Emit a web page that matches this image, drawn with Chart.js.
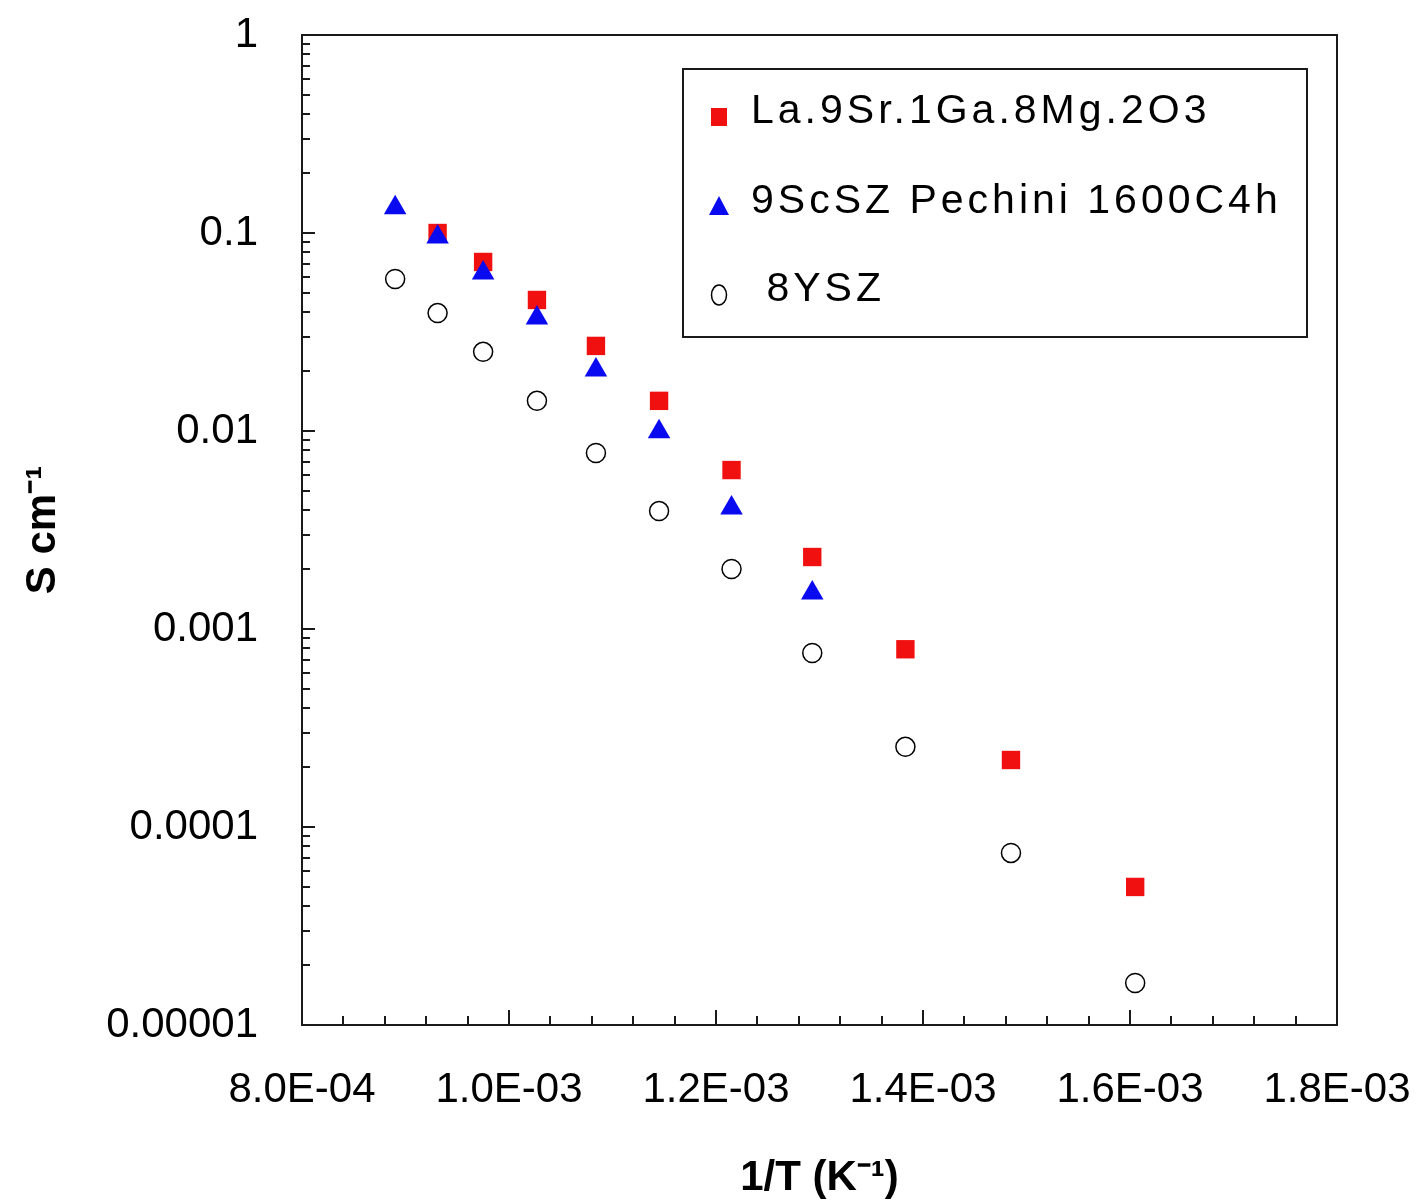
<!DOCTYPE html>
<html>
<head>
<meta charset="utf-8">
<script src="https://cdn.jsdelivr.net/npm/chart.js@4/dist/chart.umd.min.js"></script>
<style>
  html, body { margin: 0; padding: 0; background: #fff; }
</style>
</head>
<body>
<canvas id="condChart" width="1418" height="1201"></canvas>
<script>
const invTemp = [8.90e-4, 9.31e-4, 9.75e-4, 1.027e-3, 1.084e-3, 1.145e-3, 1.215e-3, 1.293e-3, 1.383e-3, 1.485e-3, 1.605e-3];

// conductivity, S cm^-1 (null = no point at that temperature)
const lsgmCond = [null, 0.100, 0.0714, 0.0459, 0.0269, 0.0142, 0.00635, 0.00231, 0.00079, 0.000218, 0.0000498];
const scszCond = [0.134, 0.0955, 0.0628, 0.0372, 0.0203, 0.0099, 0.00408, 0.00152, null, null, null];
const yszCond = [0.0586, 0.0394, 0.0251, 0.0142, 0.00774, 0.00394, 0.00201, 0.000757, 0.000254, 0.000074, 0.0000163];

const seriesLabels = ['La.9Sr.1Ga.8Mg.2O3', '9ScSZ Pechini 1600C4h', ' 8YSZ'];

const xTickValues = [0.0008, 0.0010, 0.0012, 0.0014, 0.0016, 0.0018];
const xTickLabels = ['8.0E-04', '1.0E-03', '1.2E-03', '1.4E-03', '1.6E-03', '1.8E-03'];
const yTickValues = [1e-5, 1e-4, 1e-3, 1e-2, 1e-1, 1];
const yTickLabels = ['0.00001', '0.0001', '0.001', '0.01', '0.1', '1'];

const FONT = '"Liberation Sans", Arial, sans-serif';

function toPoints(vals) {
    return invTemp.map((x, i) => ({ x: x, y: vals[i] })).filter(p => p.y !== null);
}

// box around the plot and inward tick marks
const frameTicks = {
    id: 'frameTicks',
    afterDatasetsDraw(chart) {
        const { ctx, chartArea: a } = chart;
        const x = chart.scales.x, y = chart.scales.y;
        ctx.save();
        ctx.strokeStyle = '#1a1a1a';
        ctx.lineWidth = 2;
        ctx.strokeRect(a.left, a.top, a.right - a.left, a.bottom - a.top);
        ctx.beginPath();
        for (let i = 1; i < 25; i++) {
            const px = Math.round(x.getPixelForValue(0.0008 + i * 0.00004));
            const len = i % 5 === 0 ? 15 : 9;
            ctx.moveTo(px, a.bottom);
            ctx.lineTo(px, a.bottom - len);
        }
        for (let e = -5; e <= -1; e++) {
            for (let m = 1; m <= 9; m++) {
                if (e === -5 && m === 1) continue;
                const py = Math.round(y.getPixelForValue(m * Math.pow(10, e)));
                const len = m === 1 ? 13 : 8;
                ctx.moveTo(a.left, py);
                ctx.lineTo(a.left + len, py);
            }
        }
        ctx.stroke();
        ctx.restore();
    }
};

function drawMarker(ctx, ds, cx, cy) {
    ctx.beginPath();
    if (ds.pointStyle === 'rect') {
        ctx.rect(cx - 8, cy - 9, 16, 18);
        ctx.fillStyle = ds.backgroundColor;
        ctx.fill();
    } else if (ds.pointStyle === 'triangle') {
        ctx.moveTo(cx, cy - 11);
        ctx.lineTo(cx + 10, cy + 8);
        ctx.lineTo(cx - 10, cy + 8);
        ctx.closePath();
        ctx.fillStyle = ds.backgroundColor;
        ctx.fill();
    } else {
        ctx.ellipse(cx, cy, 7.5, 10, 0, 0, Math.PI * 2);
        ctx.fillStyle = '#fff';
        ctx.fill();
        ctx.lineWidth = 1.5;
        ctx.strokeStyle = ds.borderColor;
        ctx.stroke();
    }
}

// boxed legend in the upper right of the plot
const boxLegend = {
    id: 'boxLegend',
    afterDraw(chart) {
        const ctx = chart.ctx;
        const rows = [112, 202, 290];
        ctx.save();
        ctx.fillStyle = '#fff';
        ctx.fillRect(683, 69, 624, 268);
        ctx.strokeStyle = '#1a1a1a';
        ctx.lineWidth = 2;
        ctx.strokeRect(683, 69, 624, 268);
        chart.data.datasets.forEach((ds, i) => {
            drawMarker(ctx, ds, 719, rows[i] + 5);
            ctx.fillStyle = '#000';
            ctx.font = '41px ' + FONT;
            ctx.letterSpacing = '4px';
            ctx.textBaseline = 'middle';
            ctx.textAlign = 'left';
            ctx.fillText(ds.label, 751, rows[i]);
        });
        ctx.restore();
    }
};

new Chart(document.getElementById('condChart'), {
    type: 'scatter',
    data: {
        datasets: [
            {
                label: seriesLabels[0],
                data: toPoints(lsgmCond),
                pointStyle: 'rect',
                pointRadius: 13,
                backgroundColor: '#f01010',
                borderColor: '#f01010',
                borderWidth: 0,
                order: 1
            },
            {
                label: seriesLabels[1],
                data: toPoints(scszCond),
                pointStyle: 'triangle',
                pointRadius: 13,
                backgroundColor: '#0a0af0',
                borderColor: '#0a0af0',
                borderWidth: 0,
                order: 0
            },
            {
                label: seriesLabels[2],
                data: toPoints(yszCond),
                pointStyle: 'circle',
                pointRadius: 9.5,
                backgroundColor: '#ffffff',
                borderColor: '#000000',
                borderWidth: 1.5,
                order: 2
            }
        ]
    },
    options: {
        responsive: false,
        animation: false,
        devicePixelRatio: 1,
        layout: { padding: { top: 35, right: 81, left: 0, bottom: 0 } },
        plugins: {
            legend: { display: false },
            tooltip: { enabled: false }
        },
        scales: {
            x: {
                type: 'linear',
                min: 0.0008,
                max: 0.0018,
                afterBuildTicks: s => { s.ticks = xTickValues.map(v => ({ value: v })); },
                afterFit: s => { s.height = 176; s.paddingLeft = 0; s.paddingRight = 0; },
                grid: { drawOnChartArea: false, drawTicks: false },
                border: { display: false },
                ticks: {
                    autoSkip: false,
                    maxRotation: 0,
                    padding: 40,
                    color: '#000',
                    font: { family: FONT, size: 42 },
                    callback: (v, i) => xTickLabels[i]
                },
                title: {
                    display: true,
                    text: '1/T (K⁻¹)',
                    color: '#000',
                    font: { family: FONT, size: 42, weight: 'bold' },
                    padding: { top: 0, bottom: -3 }
                }
            },
            y: {
                type: 'logarithmic',
                min: 1e-5,
                max: 1,
                afterBuildTicks: s => { s.ticks = yTickValues.map(v => ({ value: v })); },
                afterFit: s => { s.width = 302; s.paddingTop = 0; s.paddingBottom = 0; },
                grid: { drawOnChartArea: false, drawTicks: false },
                border: { display: false },
                ticks: {
                    autoSkip: false,
                    padding: 44,
                    color: '#000',
                    font: { family: FONT, size: 42 },
                    callback: (v, i) => yTickLabels[i]
                },
                title: {
                    display: true,
                    text: 'S cm⁻¹',
                    color: '#000',
                    font: { family: FONT, size: 42, weight: 'bold' },
                    padding: { top: 18, bottom: 0 }
                }
            }
        }
    },
    plugins: [frameTicks, boxLegend]
});
</script>
</body>
</html>
